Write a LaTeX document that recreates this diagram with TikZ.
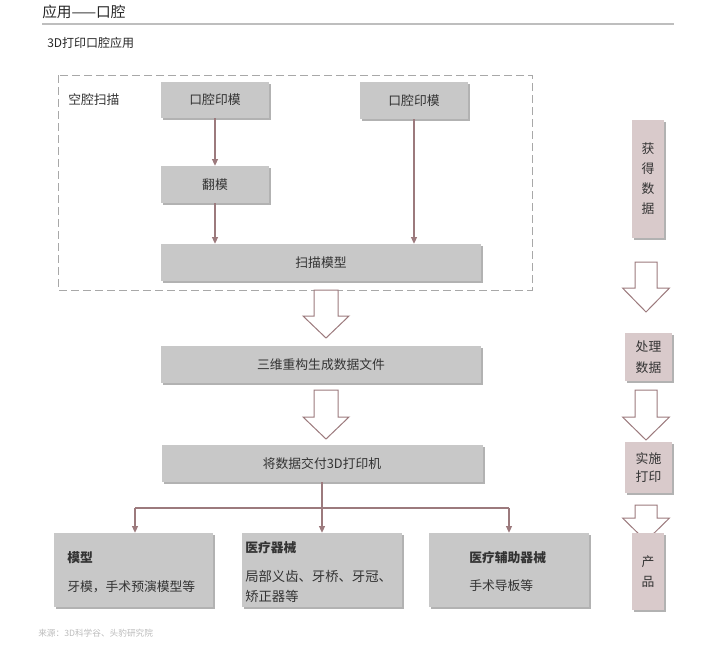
\documentclass[tikz,border=0pt]{standalone}
\usepackage{fontspec}
\setmainfont{Noto Sans CJK SC}
\usetikzlibrary{arrows.meta,shadows}
\definecolor{boxgray}{HTML}{C8C8C8}
\definecolor{pinkc}{HTML}{D9CACB}
\definecolor{arrowc}{HTML}{9C7A7D}
\definecolor{dashc}{HTML}{A8A8A8}
\definecolor{txt}{HTML}{333333}
\definecolor{rulec}{HTML}{BEBEBE}
\definecolor{srcc}{HTML}{BBBBBB}
\newcommand\hollowarr[6]{%
  \draw[hollow] (#1-#5,#2) -- (#1+#5,#2) -- (#1+#5,#3) -- (#1+#6,#3) -- (#1,#4) -- (#1-#6,#3) -- (#1-#5,#3) -- cycle;}
\begin{document}
\begin{tikzpicture}[x=0.75pt,y=-0.75pt,
  graybox/.style={fill=boxgray, draw=none, inner sep=0pt, text=txt,
    font=\fontsize{9.6pt}{12pt}\selectfont,
    drop shadow={shadow xshift=1.6pt,shadow yshift=-1.6pt,fill=black,opacity=0.3}},
  pinkbox/.style={graybox, fill=pinkc, align=center, font=\fontsize{9.6pt}{15pt}\selectfont},
  conn/.style={draw=arrowc, line width=0.8pt, -{Triangle[width=4.5pt,length=5pt]}},
  plainline/.style={draw=arrowc, line width=0.8pt},
  hollow/.style={draw=arrowc, fill=white, line width=0.75pt, line join=miter},
  lbl/.style={anchor=west, inner sep=0pt, text=txt, font=\fontsize{9.6pt}{12pt}\selectfont},
  blbl/.style={lbl, font=\fontsize{9.6pt}{12pt}\selectfont\bfseries},
]
\useasboundingbox (0,0) rectangle (720,647);

% header
\node[lbl, text=black!85, font=\fontsize{11pt}{13pt}\selectfont] (title) at (42,12) {应用——口腔};
\draw[rulec, line width=0.9pt] (42,24) -- (674,24);
\node[lbl, text=black!85, font=\fontsize{9pt}{11pt}\selectfont] (sub) at (47,43) {3D打印口腔应用};

% dashed frame
\draw[dashc, line width=0.75pt, dash pattern=on 6pt off 3pt] (58,75) rectangle (532,290);
\node[lbl] (scanlbl) at (68,100) {空腔扫描};

% main boxes
\node[graybox, minimum width=81pt, minimum height=27pt] (m1) at (215,100) {口腔印模};
\node[graybox, minimum width=81pt, minimum height=27.75pt] (m2) at (414,100.5) {口腔印模};
\node[graybox, minimum width=81pt, minimum height=27.75pt] (fm) at (215,184.5) {翻模};
\node[graybox, minimum width=240pt, minimum height=27.75pt] (sm) at (321,262.5) {扫描模型};
\node[graybox, minimum width=240pt, minimum height=27.75pt] (sw) at (321,364.5) {三维重构生成数据文件};
\node[graybox, minimum width=240.75pt, minimum height=27.75pt] (jd) at (322,463.5) {将数据交付3D打印机};

\node[graybox, minimum width=119.25pt, minimum height=55.5pt] (b1) at (133.5,570) {};
\node[graybox, minimum width=120pt, minimum height=55.5pt] (b2) at (322,570) {};
\node[graybox, minimum width=120pt, minimum height=55.5pt] (b3) at (509,570) {};

\node[blbl] (b1t) at (67,558) {模型};
\node[lbl] (b1a) at (67,587) {牙模，手术预演模型等};
\node[blbl] (b2t) at (245,548) {医疗器械};
\node[lbl, font=\fontsize{10pt}{12pt}\selectfont] (b2a) at (245,576) {局部义齿、牙桥、牙冠、};
\node[lbl, font=\fontsize{10pt}{12pt}\selectfont] (b2b) at (245,596) {矫正器等};
\node[blbl] (b3t) at (469,558) {医疗辅助器械};
\node[lbl] (b3a) at (469,586) {手术导板等};

% connectors
\draw[conn] (m1.south) -- (fm.north);
\draw[conn] (fm.south) -- (fm.south |- sm.north);
\draw[conn] (m2.south) -- (m2.south |- sm.north);
\coordinate (hl) at (135,508);
\coordinate (hr) at (509,508);
\draw[plainline] (hl) -- (hr);
\draw[conn] (jd.south) -- (jd.south |- b2.north);
\draw[conn] (hl) -- (hl |- b1.north);
\draw[conn] (hr) -- (hr |- b3.north);

% hollow arrows (main)
\hollowarr{326}{290}{316}{338}{12}{23}
\hollowarr{326}{390}{417}{439}{12}{23}

% right column
\hollowarr{646}{262}{288}{312}{11}{23.5}
\hollowarr{646}{390}{417}{440}{11}{23.5}
\hollowarr{646}{505}{518}{541}{11}{23.5}
\node[pinkbox, minimum width=24pt, minimum height=88.5pt] (r1) at (648,179) {获\\得\\数\\据};
\node[pinkbox, minimum width=35.25pt, minimum height=36pt, font=\fontsize{9.6pt}{16pt}\selectfont] (r2) at (648.5,357) {处理\\数据};
\node[pinkbox, minimum width=35.25pt, minimum height=38.25pt, font=\fontsize{9.6pt}{14pt}\selectfont] (r3) at (648.5,467.5) {实施\\打印};
\node[pinkbox, minimum width=24pt, minimum height=57.75pt] (r4) at (648,571.5) {产\\品};

% source
\node[lbl, text=srcc, font=\fontsize{6.5pt}{8pt}\selectfont] (src) at (38,633) {来源：3D科学谷、头豹研究院};
\end{tikzpicture}
\end{document}
